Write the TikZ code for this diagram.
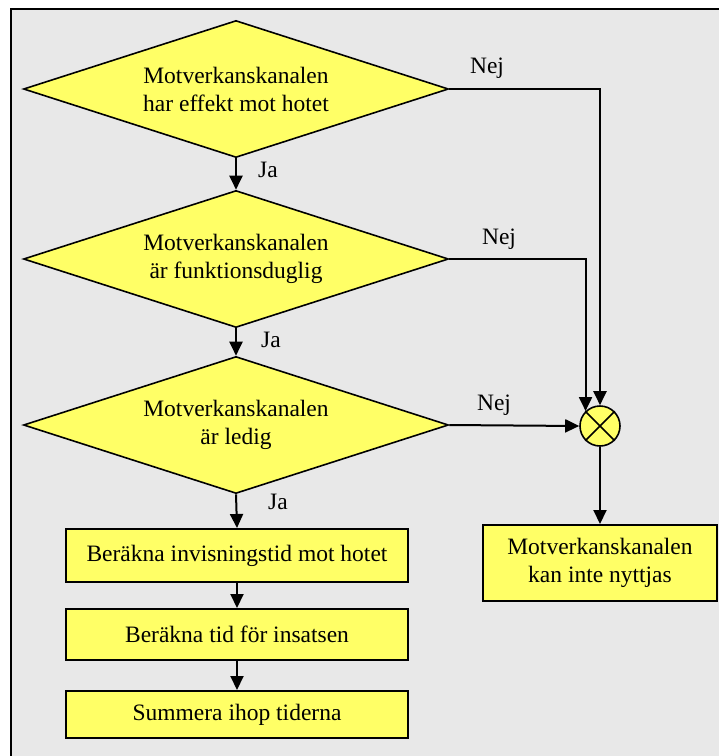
\documentclass[tikz,border=0pt]{standalone}
\usepackage{fontspec}
\setmainfont{Liberation Serif}
\usetikzlibrary{shapes.geometric,arrows.meta}
\definecolor{bgray}{HTML}{E8E8E8}
\definecolor{fyellow}{HTML}{FFFF66}
\tikzset{
  test/.style={diamond,draw,fill=fyellow,line width=0.8pt,shape aspect=3.1,
    minimum width=212.5pt,minimum height=68.5pt,inner sep=0pt,align=center},
  task/.style={rectangle,draw,fill=fyellow,line width=1pt,minimum width=171pt,
    inner sep=0pt,align=center},
  flow/.style={line width=1pt,-{Triangle[length=7pt,width=6.5pt]}},
  mixer/.style={circle,draw,fill=fyellow,line width=0.8pt,minimum size=20pt,inner sep=0pt},
  lbl/.style={inner sep=0pt}
}

\begin{document}
\begin{tikzpicture}[x=0.5pt,y=-0.5pt,font=\fontsize{11.75}{14}\selectfont]
\useasboundingbox (0,0) rectangle (719,756);
\fill[bgray] (11,9) rectangle (719,756);
\draw[line width=1pt] (11,756) -- (11,9) -- (719,9);

% tests
\node[test] (q1) at (236,89) {Motverkanskanalen\\har effekt mot hotet};
\node[test] (q2) at (236,259) {Motverkanskanalen\\är funktionsduglig};
\node[test] (q3) at (236,425) {Motverkanskanalen\\är ledig};

% steps
\node[task,minimum height=26.5pt] (s1) at (237,555.5) {Beräkna invisningstid mot hotet};
\node[task,minimum height=25.5pt] (s2) at (237,634.5) {Beräkna tid för insatsen};
\node[task,minimum height=23.5pt] (s3) at (237,714.5) {Summera ihop tiderna};

\node[mixer] (x) at (600,426) {};
\draw[line width=0.8pt] (x.north west) -- (x.south east) (x.north east) -- (x.south west);
\node[task,minimum width=117pt,minimum height=38pt] (no) at (600,563) {Motverkanskanalen\\kan inte nyttjas};

% Ja
\draw[flow] (q1.south) -- (q2.north);
\draw[flow] (q2.south) -- (q3.north);
\draw[flow] (q3.south) -- (s1.north);
\draw[flow] (s1) -- (s2);
\draw[flow] (s2) -- (s3);
\node[lbl] (ja1) at (268,170) {Ja};
\node[lbl] (ja2) at (271,340) {Ja};
\node[lbl] (ja3) at (278,502) {Ja};

% Nej
\draw[flow] (q1.east) -| (x.north);
\draw[flow] (q2.east) -| (x.134);
\draw[flow] (q3.east) -- (x.west);
\draw[flow] (x.south) -- (no.north);
\node[lbl] (nej1) at (487,68) {Nej};
\node[lbl] (nej2) at (499,239) {Nej};
\node[lbl] (nej3) at (494,405) {Nej};
\end{tikzpicture}
\end{document}
